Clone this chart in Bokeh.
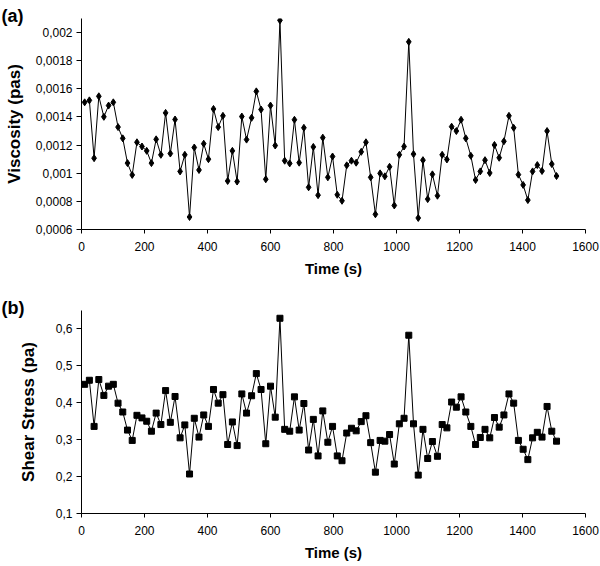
from bokeh.plotting import figure
from bokeh.layouts import column
from bokeh.models import Range1d, FixedTicker, CustomJSTickFormatter, Title
from bokeh.embed import file_html
from bokeh.resources import INLINE

# ---- data ----
time_s = [round(10 + 15.13 * i) for i in range(100)]

viscosity_pas = [
    0.001504, 0.001518, 0.001107, 0.001547, 0.001401, 0.001481, 0.001504, 0.001328, 0.001248, 0.001072,
    0.000988, 0.001220, 0.001190, 0.001159, 0.001072, 0.001241, 0.001131, 0.001429, 0.001140, 0.001382,
    0.001013, 0.001131, 0.000689, 0.001183, 0.001023, 0.001210, 0.001100, 0.001457, 0.001328, 0.001408,
    0.000945, 0.001159, 0.000941, 0.001403, 0.001239, 0.001394, 0.001582, 0.001453, 0.000957, 0.001481,
    0.001197, 0.002087, 0.001089, 0.001070, 0.001380, 0.001075, 0.001323, 0.000900, 0.001187, 0.000844,
    0.001253, 0.000971, 0.001119, 0.000847, 0.000804, 0.001056, 0.001089, 0.001075, 0.001152, 0.001220,
    0.000971, 0.000708, 0.000999, 0.000978, 0.001046, 0.000771, 0.001131, 0.001190, 0.001934, 0.001136,
    0.000682, 0.001093, 0.000816, 0.000992, 0.000840, 0.001131, 0.001098, 0.001331, 0.001300, 0.001380,
    0.001248, 0.001124, 0.000952, 0.001013, 0.001093, 0.001002, 0.001201, 0.001110, 0.001227, 0.001408,
    0.001323, 0.000990, 0.000917, 0.000809, 0.001013, 0.001058, 0.001016, 0.001300, 0.001065, 0.000980,
]

shear_stress_pa = [
    0.450, 0.461, 0.336, 0.463, 0.420, 0.445, 0.450, 0.399, 0.375, 0.326,
    0.298, 0.366, 0.359, 0.350, 0.323, 0.372, 0.341, 0.433, 0.347, 0.417,
    0.305, 0.340, 0.207, 0.358, 0.307, 0.367, 0.336, 0.436, 0.399, 0.422,
    0.287, 0.348, 0.284, 0.424, 0.372, 0.419, 0.479, 0.436, 0.289, 0.445,
    0.361, 0.629, 0.328, 0.323, 0.416, 0.326, 0.398, 0.272, 0.355, 0.256,
    0.378, 0.293, 0.336, 0.256, 0.243, 0.318, 0.331, 0.324, 0.349, 0.365,
    0.292, 0.212, 0.298, 0.296, 0.314, 0.234, 0.343, 0.358, 0.583, 0.343,
    0.204, 0.328, 0.249, 0.295, 0.255, 0.341, 0.332, 0.402, 0.388, 0.416,
    0.375, 0.336, 0.287, 0.306, 0.328, 0.305, 0.360, 0.334, 0.367, 0.424,
    0.399, 0.298, 0.274, 0.246, 0.305, 0.320, 0.307, 0.390, 0.323, 0.296,
]

x_ticks = [0, 200, 400, 600, 800, 1000, 1200, 1400, 1600]
x_tick_labels = ["0", "200", "400", "600", "800", "1000", "1200", "1400", "1600"]

visc_ticks = [0.0006, 0.0008, 0.0010, 0.0012, 0.0014, 0.0016, 0.0018, 0.0020]
visc_tick_labels = ["0,0006", "0,0008", "0,001", "0,0012", "0,0014", "0,0016", "0,0018", "0,002"]

stress_ticks = [0.1, 0.2, 0.3, 0.4, 0.5, 0.6]
stress_tick_labels = ["0,1", "0,2", "0,3", "0,4", "0,5", "0,6"]

FONT = "Liberation Sans"
FMT_CODE = """
let best = -1, bd = Infinity;
for (let i = 0; i < t.length; i++) { const d = Math.abs(t[i] - tick); if (d < bd) { bd = d; best = i; } }
return (best >= 0 && bd < 1e-9) ? l[best] : '';
"""


def make_fig(height, y_range, yticks, ylabels, ylab, panel, b_top, b_bottom, ylab_standoff):
    p = figure(width=600, height=height, output_backend="svg", toolbar_location=None,
               x_range=Range1d(0, 1600), y_range=y_range,
               min_border_left=81, min_border_right=15,
               min_border_top=b_top, min_border_bottom=b_bottom)
    p.outline_line_color = None
    p.background_fill_color = "white"
    p.border_fill_color = "white"
    p.xgrid.visible = False
    p.ygrid.visible = False

    p.title = Title(text=panel, align="left", offset=-80, standoff=-14,
                    text_font=FONT, text_font_style="bold", text_font_size="18px",
                    text_color="black")

    p.xaxis.ticker = FixedTicker(ticks=x_ticks)
    p.xaxis.formatter = CustomJSTickFormatter(args=dict(t=x_ticks, l=x_tick_labels), code=FMT_CODE)
    p.yaxis.ticker = FixedTicker(ticks=yticks)
    p.yaxis.formatter = CustomJSTickFormatter(args=dict(t=yticks, l=ylabels), code=FMT_CODE)

    for ax in (p.xaxis[0], p.yaxis[0]):
        ax.axis_line_color = "black"
        ax.axis_line_width = 1
        ax.major_tick_line_color = "black"
        ax.major_tick_in = 0
        ax.minor_tick_in = 0
        ax.minor_tick_out = 0
        ax.major_label_text_font = FONT
        ax.major_label_text_font_size = "12px"
        ax.major_label_text_color = "black"
        ax.axis_label_text_font = FONT
        ax.axis_label_text_font_style = "bold"
        ax.axis_label_text_color = "black"
    p.xaxis.major_tick_out = 4
    p.yaxis.major_tick_out = 5
    p.xaxis.major_label_standoff = 8
    p.yaxis.major_label_standoff = 4
    p.xaxis.axis_label = "Time (s)"
    p.xaxis.axis_label_text_font_size = "15px"
    p.xaxis.axis_label_standoff = 6
    p.yaxis.axis_label = ylab
    p.yaxis.axis_label_text_font_size = "17px"
    p.yaxis.axis_label_standoff = ylab_standoff
    return p


# top panel: frame from y=18 to y=229, frame left at x=81
p1 = make_fig(283, Range1d(0.0006, 0.0021), visc_ticks, visc_tick_labels,
              "Viscosity (pas)", "(a)", 18, 54, 9)
p1.line(time_s, viscosity_pas, line_color="black", line_width=1)
p1.scatter(time_s, viscosity_pas, marker="diamond", size=7, fill_color="black", line_color="black")

# bottom panel: frame from y=27 to y=230 (page 310..513)
p2 = make_fig(283, Range1d(0.1, 0.65), stress_ticks, stress_tick_labels,
              "Shear Stress (pa)", "(b)", 27, 53, 15)
p2.line(time_s, shear_stress_pa, line_color="black", line_width=1)
p2.scatter(time_s, shear_stress_pa, marker="square", size=6, fill_color="black", line_color="black")

layout = column(p1, p2, spacing=0)
open("out.html", "w").write(file_html(layout, INLINE))
